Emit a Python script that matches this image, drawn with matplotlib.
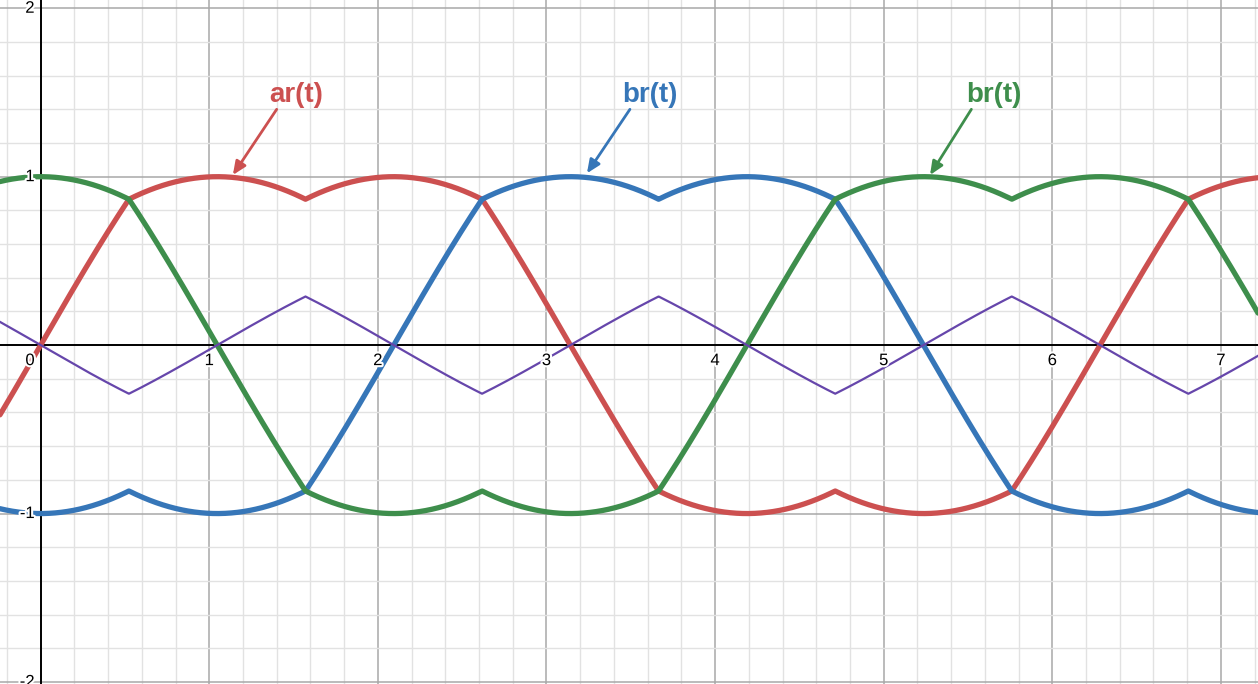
import numpy as np
import matplotlib.pyplot as plt
import matplotlib.patheffects as pe

plt.rcParams['font.family'] = ['Liberation Sans', 'DejaVu Sans']

# view window
x_min, x_max = -0.241, 7.22
y_min, y_max = -2.012, 2.049

# three phase shifts, the curves are normalised by 2/sqrt(3)
phase_red = 0.0
phase_blue = -2 * np.pi / 3
phase_green = 2 * np.pi / 3
gain = 2 / np.sqrt(3)

red_col = '#cc5050'
blue_col = '#3676b8'
green_col = '#3e8e4c'
purple_col = '#6646ab'

x_tick_vals = [0, 1, 2, 3, 4, 5, 6, 7]
y_tick_vals = [-2, -1, 1, 2]

labels = ['ar(t)', 'br(t)', 'br(t)']
label_cols = [red_col, blue_col, green_col]
label_xy = [(1.514, 1.485), (3.615, 1.485), (5.654, 1.485)]
arrow_tail = [(1.40, 1.40), (3.495, 1.40), (5.52, 1.40)]
arrow_tip = [(1.14, 1.01), (3.24, 1.02), (5.275, 1.01)]

t = np.linspace(x_min - 0.1, x_max + 0.1, 4000)
sa = np.sin(t + phase_red)
sb = np.sin(t + phase_blue)
sc = np.sin(t + phase_green)
s = np.vstack([sa, sb, sc])
z = -(s.max(axis=0) + s.min(axis=0)) / 2

ar = gain * (sa + z)
br = gain * (sb + z)
cr = gain * (sc + z)
zr = -gain * z

fig = plt.figure(figsize=(12.58, 6.84), dpi=100)
ax = fig.add_axes([0, 0, 1, 1])
ax.set_xlim(x_min, x_max)
ax.set_ylim(y_min, y_max)

ax.set_xticks(np.arange(0, 8, 1))
ax.set_yticks(np.arange(-2, 3, 1))
ax.set_xticks(np.arange(-0.2, 7.3, 0.2), minor=True)
ax.set_yticks(np.arange(-2, 2.1, 0.2), minor=True)
ax.grid(which='major', color='#a8a8a8', lw=1.1)
ax.grid(which='minor', color='#e2e2e2', lw=1.0)
ax.tick_params(which='both', length=0, labelbottom=False, labelleft=False)
for sp in ax.spines.values():
    sp.set_visible(False)
ax.axhline(0, color='black', lw=1.4, zorder=2)
ax.axvline(0, color='black', lw=1.4, zorder=2)

ax.plot(t, ar, color=red_col, lw=3.8, zorder=3, solid_capstyle='round')
ax.plot(t, br, color=blue_col, lw=3.8, zorder=3, solid_capstyle='round')
ax.plot(t, cr, color=green_col, lw=3.8, zorder=3, solid_capstyle='round')
ax.plot(t, zr, color=purple_col, lw=1.6, zorder=4)

halo = [pe.withStroke(linewidth=3, foreground='white')]
for v in x_tick_vals:
    if v == 0:
        ax.annotate('0', (0, 0), xytext=(-6, -8), textcoords='offset pixels',
                    ha='right', va='top', fontsize=12, path_effects=halo, zorder=5)
    else:
        ax.annotate(str(v), (v, 0), xytext=(0, -8), textcoords='offset pixels',
                    ha='center', va='top', fontsize=12, path_effects=halo, zorder=5)
for v in y_tick_vals:
    ax.annotate(str(v), (0, v), xytext=(-6, 0), textcoords='offset pixels',
                ha='right', va='center', fontsize=12, path_effects=halo, zorder=5)

for lab, col, xy, tail, tip in zip(labels, label_cols, label_xy, arrow_tail, arrow_tip):
    ax.text(xy[0], xy[1], lab, color=col, fontsize=20, fontweight='bold',
            ha='center', va='center', zorder=6)
    ax.annotate('', xy=tip, xytext=tail,
                arrowprops=dict(arrowstyle='-|>,head_length=0.8,head_width=0.35',
                                color=col, lw=2, shrinkA=0, shrinkB=0), zorder=6)

fig.savefig('out.png', dpi=100)
